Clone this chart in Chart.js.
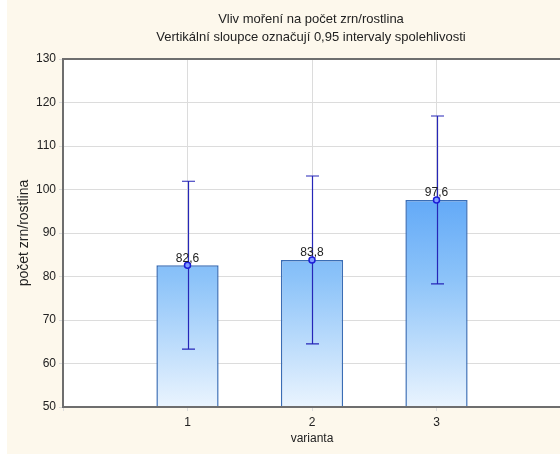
<!DOCTYPE html>
<html lang="cs">
<head>
<meta charset="UTF-8">
<title>Vliv moření na počet zrn/rostlina</title>
<script src="https://cdn.jsdelivr.net/npm/chart.js"></script>
<style>
  body { margin: 0; background: #fff; overflow: hidden; }
  #obal { position: absolute; left: 7px; top: 0; width: 608px; height: 454px; background: #fdf8ec; }
</style>
</head>
<body>
<div id="obal"><canvas id="graf" width="608" height="454"></canvas></div>
<script>
  // data
  const varianty = ['1', '2', '3'];
  const prumery = [82.6, 83.8, 97.6];
  const dolniMez = [63.3, 64.5, 78.3];
  const horniMez = [101.9, 103.1, 116.9];
  const osaY = [50, 60, 70, 80, 90, 100, 110, 120, 130];

  const pismo = 'Liberation Sans, Arial, sans-serif';
  const modra = '#2626b8';

  // prázdné kategorie na okrajích, aby 1..3 ležely uvnitř
  const popisky = ['', ...varianty, ''];
  const sloupce = [null, ...prumery, null];
  const dolni = [null, ...dolniMez, null];
  const horni = [null, ...horniMez, null];

  const doplnky = {
    id: 'doplnky',
    beforeDraw(chart) {
      const { ctx, chartArea: a } = chart;
      ctx.save();
      ctx.fillStyle = '#ffffff';
      ctx.fillRect(a.left, a.top, a.right - a.left, a.bottom - a.top);
      ctx.restore();
    },
    afterDatasetDraw(chart, args) {
      if (args.index !== 0) return;
      const { ctx, scales } = chart;
      ctx.save();
      ctx.strokeStyle = modra;
      ctx.lineWidth = 1.2;
      for (let i = 0; i < popisky.length; i++) {
        if (horni[i] == null) continue;
        const x = Math.round(scales.x.getPixelForValue(i)) + 0.5;
        const y1 = scales.y.getPixelForValue(horni[i]);
        const y2 = scales.y.getPixelForValue(dolni[i]);
        ctx.beginPath();
        ctx.moveTo(x, y1); ctx.lineTo(x, y2);
        ctx.moveTo(x - 6.5, y1); ctx.lineTo(x + 6.5, y1);
        ctx.moveTo(x - 6.5, y2); ctx.lineTo(x + 6.5, y2);
        ctx.stroke();
      }
      ctx.restore();
    },
    afterDatasetsDraw(chart) {
      const { ctx, chartArea: a, scales } = chart;
      ctx.save();
      ctx.strokeStyle = '#6e6e6e';
      ctx.lineWidth = 2;
      ctx.strokeRect(Math.round(a.left), Math.round(a.top), Math.round(a.right - a.left), Math.round(a.bottom - a.top));
      ctx.fillStyle = '#222';
      ctx.font = '12px ' + pismo;
      ctx.textAlign = 'center';
      ctx.textBaseline = 'bottom';
      for (let i = 0; i < popisky.length; i++) {
        if (sloupce[i] == null) continue;
        const x = scales.x.getPixelForValue(i);
        const y = scales.y.getPixelForValue(sloupce[i]);
        ctx.fillText(sloupce[i].toFixed(1).replace('.', ','), x, y - 1);
      }
      ctx.restore();
    }
  };

  const ctx = document.getElementById('graf').getContext('2d');
  const graf = new Chart(ctx, {
    type: 'bar',
    data: {
      labels: popisky,
      datasets: [{
        label: 'průměr',
        data: sloupce,
        order: 2,
        backgroundColor: (c) => {
          const a = c.chart.chartArea;
          if (!a) return '#8cc3f9';
          const g = c.chart.ctx.createLinearGradient(0, a.top, 0, a.bottom);
          g.addColorStop(0, '#3f97f4');
          g.addColorStop(0.4, '#62a9f7');
          g.addColorStop(0.63, '#8cc3f9');
          g.addColorStop(1, '#eaf4fe');
          return g;
        },
        borderColor: '#3a6db5',
        borderWidth: 1.5,
        barPercentage: 0.5,
        categoryPercentage: 1
      }, {
        type: 'line',
        label: 'bod',
        data: sloupce,
        order: 1,
        showLine: false,
        pointRadius: 3,
        pointBorderWidth: 1.5,
        pointBorderColor: '#1c1cd8',
        pointBackgroundColor: '#7f9cff'
      }]
    },
    options: {
      responsive: false,
      devicePixelRatio: 1,
      animation: false,
      layout: { padding: 0 },
      scales: {
        x: {
          offset: false,
          afterFit: (s) => { s.height = 47; },
          grid: { color: '#dcdcdc', offset: false, tickLength: 4 },
          border: { display: false },
          ticks: { color: '#222', padding: 4, font: { family: pismo, size: 12 } },
          title: { display: true, text: 'varianta', color: '#222', padding: { top: 0, bottom: 8 }, font: { family: pismo, size: 12 } }
        },
        y: {
          min: 50,
          max: 130,
          afterFit: (s) => { s.width = 56; },
          afterBuildTicks: (s) => { s.ticks = osaY.map(v => ({ value: v })); },
          grid: { color: '#dcdcdc', tickLength: 4 },
          border: { display: false },
          ticks: { color: '#222', padding: 3, font: { family: pismo, size: 12 } },
          title: { display: true, text: 'počet zrn/rostlina', color: '#222', padding: { top: 9, bottom: 0 }, font: { family: pismo, size: 14 } }
        },
        // prázdná pravá osa jen kvůli okraji vpravo
        y2: {
          position: 'right',
          display: true,
          afterFit: (s) => { s.width = 54; },
          grid: { display: false, drawTicks: false },
          border: { display: false },
          ticks: { display: false }
        }
      },
      plugins: {
        legend: { display: false },
        tooltip: { enabled: false },
        title: {
          display: true,
          text: ['Vliv moření na počet zrn/rostlina', 'Vertikální sloupce označují 0,95 intervaly spolehlivosti'],
          color: '#222',
          font: { family: pismo, size: 13, weight: 'normal', lineHeight: 1.4 },
          padding: { top: 10, bottom: 12.6 }
        }
      }
    },
    plugins: [doplnky]
  });
</script>
</body>
</html>
